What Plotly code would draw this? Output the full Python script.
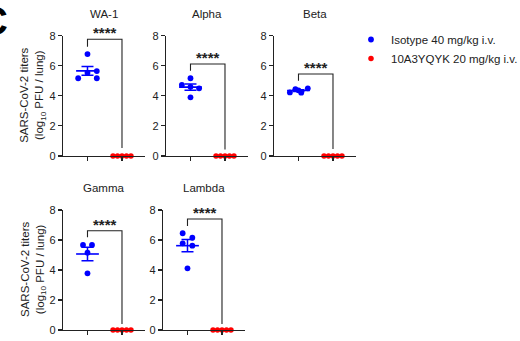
import numpy as np
import plotly.graph_objects as go

W, H = 520, 341

# ---------------- data ----------------
variants = ["WA-1", "Alpha", "Beta", "Gamma", "Lambda"]

wa1_isotype = [6.78, 5.65, 5.17, 5.17, 5.54]
alpha_isotype = [5.17, 4.72, 4.50, 4.60, 3.90]
beta_isotype = [4.23, 4.45, 4.21, 4.50, 4.37]
gamma_isotype = [5.67, 5.67, 5.15, 3.78]
lambda_isotype = [6.45, 6.15, 5.78, 5.62, 4.11]

wa1_ab = [0, 0, 0, 0, 0]
alpha_ab = [0, 0, 0, 0, 0]
beta_ab = [0, 0, 0, 0, 0]
gamma_ab = [0, 0, 0, 0, 0]
lambda_ab = [0, 0, 0, 0, 0]

significance = ["****", "****", "****", "****", "****"]
y_ticks = [0, 2, 4, 6, 8]
group_names = ["Isotype 40 mg/kg i.v.", "10A3YQYK 20 mg/kg i.v."]

# ---------------- layout helpers (positions / styles) ----------------
iso_jitter = [
    [0, 0.27, -0.27, 0.27, 0],
    [0, -0.25, 0.25, 0, 0],
    [-0.25, -0.09, 0.08, 0.27, 0],
    [-0.13, 0.13, 0, 0],
    [-0.14, 0.14, -0.14, 0.14, 0],
]
ab_jitter = [-0.26, -0.13, 0, 0.13, 0.26]
# bracket: (top, left leg bottom, right leg bottom)
brackets = [
    (7.76, 7.27, 0.53),
    (6.12, 5.67, 0.44),
    (5.45, 5.00, 0.46),
    (6.62, 6.18, 0.40),
    (7.40, 6.93, 0.40),
]
panel_x = [(63, 145), (166, 248), (274, 356), (63, 145), (163, 245)]
panel_y = [(35.7, 156)] * 3 + [(210, 330)] * 2

iso_all = [wa1_isotype, alpha_isotype, beta_isotype, gamma_isotype, lambda_isotype]
ab_all = [wa1_ab, alpha_ab, beta_ab, gamma_ab, lambda_ab]

BLUE = "#0000ff"
RED = "#ff0000"
INK = "#222222"
FONT = "Liberation Sans, Arial, sans-serif"

fig = go.Figure()
layout = dict(
    width=W, height=H,
    margin=dict(l=0, r=0, t=0, b=0, pad=0, autoexpand=False),
    paper_bgcolor="white", plot_bgcolor="white",
    font=dict(family=FONT, size=11, color=INK),
    showlegend=True,
)
annotations = []

for i, name in enumerate(variants):
    n = i + 1
    xa = "x" if n == 1 else f"x{n}"
    ya = "y" if n == 1 else f"y{n}"
    iso = np.array(iso_all[i], dtype=float)
    ab = np.array(ab_all[i], dtype=float)
    mean = iso.mean()
    sem = iso.std(ddof=1) / np.sqrt(len(iso))

    # error bar (SEM)
    fig.add_trace(go.Scatter(
        x=[0], y=[mean], mode="markers", marker=dict(size=1, color=BLUE, opacity=0),
        error_y=dict(type="data", array=[sem], visible=True, color=BLUE, thickness=1.5, width=6),
        xaxis=xa, yaxis=ya, showlegend=False, hoverinfo="skip"))
    # mean line
    fig.add_trace(go.Scatter(
        x=[-0.33, 0.33], y=[mean, mean], mode="lines",
        line=dict(color=BLUE, width=1.6),
        xaxis=xa, yaxis=ya, showlegend=False, hoverinfo="skip"))
    # isotype points
    fig.add_trace(go.Scatter(
        x=np.array(iso_jitter[i]), y=iso, mode="markers",
        marker=dict(color=BLUE, size=5.8),
        name=group_names[0], showlegend=(i == 0), legendrank=1,
        xaxis=xa, yaxis=ya, cliponaxis=False))
    # antibody points
    fig.add_trace(go.Scatter(
        x=np.array(ab_jitter) + 1, y=ab, mode="markers",
        marker=dict(color=RED, size=5.5),
        name=group_names[1], showlegend=(i == 0), legendrank=2,
        xaxis=xa, yaxis=ya, cliponaxis=False))
    # significance bracket
    top, lb, rb = brackets[i]
    fig.add_trace(go.Scatter(
        x=[0, 0, 1, 1], y=[lb, top, top, rb], mode="lines",
        line=dict(color=INK, width=1.1),
        xaxis=xa, yaxis=ya, showlegend=False, hoverinfo="skip", cliponaxis=False))
    annotations.append(dict(
        x=0.5, y=top, xref=xa, yref=ya, text="<b>" + significance[i] + "</b>", showarrow=False,
        yanchor="bottom", yshift=-4, font=dict(size=15, color=INK, family=FONT)))

    x0, x1 = panel_x[i]
    y0, y1 = panel_y[i]
    layout[f"xaxis{'' if n == 1 else n}"] = dict(
        domain=[x0 / W, x1 / W], range=[-0.71, 1.667], anchor=ya, automargin=False,
        showline=True, linecolor=INK, linewidth=1.1, ticks="outside", ticklen=4,
        tickwidth=1.1, tickcolor=INK, tickvals=[0, 1], showticklabels=False,
        showgrid=False, zeroline=False, fixedrange=True)
    layout[f"yaxis{'' if n == 1 else n}"] = dict(
        domain=[1 - y1 / H, 1 - y0 / H], range=[0, 8], anchor=xa, automargin=False,
        showline=True, linecolor=INK, linewidth=1.1, ticks="outside", ticklen=4,
        tickwidth=1.1, tickcolor=INK, tickvals=y_ticks,
        tickfont=dict(size=11, color=INK, family=FONT),
        showgrid=False, zeroline=False, fixedrange=True)

    # panel title
    annotations.append(dict(
        x=(x0 + x1) / 2 / W, y=1 - (y0 - 22) / H, xref="paper", yref="paper",
        text=name, showarrow=False, xanchor="center", yanchor="middle",
        font=dict(size=11.5, color=INK, family=FONT)))

# y-axis titles
for r in (0, 3):
    y0, y1 = panel_y[r]
    annotations.append(dict(
        x=33 / W, y=1 - (y0 + y1) / 2 / H, xref="paper", yref="paper",
        text="SARS-CoV-2 titers<br>(log<sub>10</sub> PFU / lung)", showarrow=False,
        textangle=-90, xanchor="center", yanchor="middle",
        font=dict(size=11.5, color=INK, family=FONT)))

# panel letter
annotations.append(dict(
    x=10 / W, y=1 - 21 / H, xref="paper", yref="paper", text="<b>C</b>",
    showarrow=False, xanchor="right", yanchor="middle",
    font=dict(size=40, color="black", family=FONT)))

layout["annotations"] = annotations
layout["legend"] = dict(
    x=351 / W, y=1 - 25 / H, xanchor="left", yanchor="top",
    font=dict(size=11.5, color=INK, family=FONT), bgcolor="rgba(0,0,0,0)",
    tracegroupgap=0, itemsizing="trace")

fig.update_layout(**layout)
fig.write_html("out.html", config={"displayModeBar": False, "staticPlot": True},
               post_script="document.body.style.margin='0';")
